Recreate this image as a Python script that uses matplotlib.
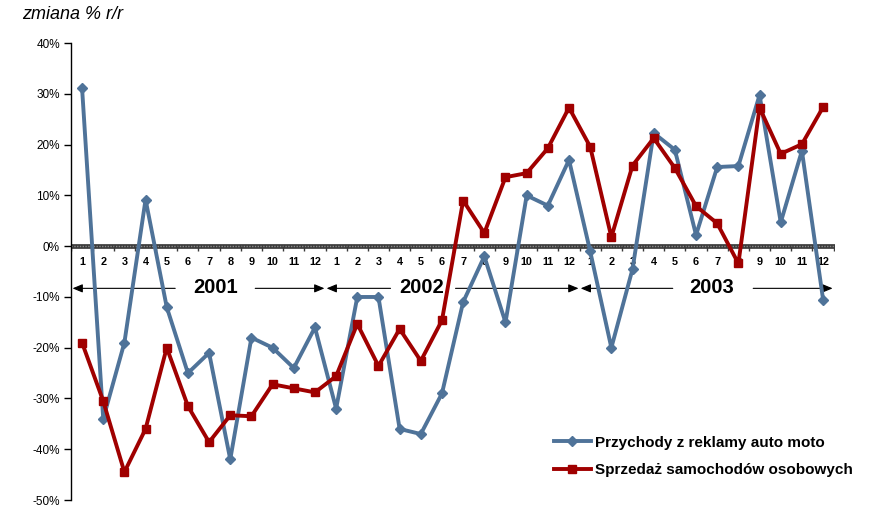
import numpy as np
import matplotlib
matplotlib.use('Agg')
import matplotlib.pyplot as plt
from matplotlib.ticker import FuncFormatter

plt.rcParams['font.family'] = ['Liberation Sans', 'DejaVu Sans']

# monthly % change, Jan 2001 .. Dec 2003
years = ['2001', '2002', '2003']
months = [str(m) for m in range(1, 13)] * 3
ads = [31.2, -34.0, -19.0, 9.2, -12.0, -25.0, -21.0, -42.0, -18.0, -20.0, -24.0, -16.0,
       -32.0, -10.0, -10.0, -36.0, -37.0, -29.0, -11.0, -2.0, -15.0, 10.0, 8.0, 17.0,
       -1.0, -20.0, -4.5, 22.3, 19.0, 2.2, 15.6, 15.8, 29.8, 4.7, 18.8, -10.5]
cars = [-19.0, -30.5, -44.5, -36.0, -20.0, -31.5, -38.6, -33.3, -33.5, -27.2, -28.0, -28.8,
        -25.6, -15.3, -23.6, -16.3, -22.6, -14.6, 9.0, 2.6, 13.6, 14.4, 19.3, 27.3,
        19.6, 1.8, 15.9, 21.3, 15.4, 7.9, 4.5, -3.4, 27.3, 18.2, 20.1, 27.4]
label_ads = 'Przychody z reklamy auto moto'
label_cars = 'Sprzedaż samochodów osobowych'

# where each year caption sits on its arrow and the white gap around it
year_pos = [6.3, 16.05, 29.75]
year_gap = [(4.4, 8.18), (14.57, 17.64), (27.9, 31.7)]

BLUE = '#4F7399'
RED = '#A00000'

fig = plt.figure(figsize=(8.88, 5.07), dpi=100)
ax = fig.add_axes([0.08, 0.0138, 0.86, 0.901])

x = np.arange(len(months))
ax.set_xlim(-0.52, len(months) - 0.45)
ax.set_ylim(-50, 40)

# thick zero axis with month separators
ax.axhline(0, color='#3a3a3a', lw=3.4, zorder=2)
ax.axhline(0, color='#8a8a8a', lw=1, ls=(0, (1, 1)), zorder=2)
ax.vlines(np.arange(-0.5, len(months), 1), -0.9, 0, color='#3a3a3a', lw=1, zorder=2)

for xi, m in zip(x, months):
    ax.text(xi, -3.2, m, ha='center', va='center', fontsize=7.8, fontweight='bold')

for k, yr in enumerate(years):
    left, right = 12 * k - 0.5, 12 * k + 11.5
    g0, g1 = year_gap[k]
    ax.annotate('', xy=(left + 0.05, -8.3), xytext=(g0, -8.3),
                arrowprops=dict(arrowstyle='-|>,head_length=0.6,head_width=0.25',
                                color='black', lw=0.8, shrinkA=0, shrinkB=0), zorder=1)
    ax.annotate('', xy=(right - 0.05, -8.3), xytext=(g1, -8.3),
                arrowprops=dict(arrowstyle='-|>,head_length=0.6,head_width=0.25',
                                color='black', lw=0.8, shrinkA=0, shrinkB=0), zorder=1)
    ax.text(year_pos[k], -8.2, yr, ha='center', va='center', fontsize=14.5,
            fontweight='bold', zorder=1)

ax.plot(x, ads, color=BLUE, lw=2.8, marker='D', ms=5.5, label=label_ads, zorder=3)
ax.plot(x, cars, color=RED, lw=2.8, marker='s', ms=6, label=label_cars, zorder=4)

ax.set_yticks(np.arange(-50, 41, 10))
ax.yaxis.set_major_formatter(FuncFormatter(lambda v, p: f'{v:.0f}%'))
ax.tick_params(axis='y', direction='out', length=5, width=1, labelsize=8.5, pad=3)
ax.set_xticks([])
for s in ['top', 'right', 'bottom']:
    ax.spines[s].set_visible(False)
ax.spines['left'].set_linewidth(1)

fig.text(0.025, 0.972, 'zmiana % r/r', fontsize=13, fontstyle='italic', va='center')

handles, labels = ax.get_legend_handles_labels()
fig.legend(handles, labels, loc='upper left', bbox_to_anchor=(0.617, 0.153),
           frameon=False, prop={'weight': 'bold', 'size': 11},
           handlelength=2.4, handletextpad=0.3, labelspacing=0.9, borderaxespad=0)

fig.savefig('out.png', dpi=100)
